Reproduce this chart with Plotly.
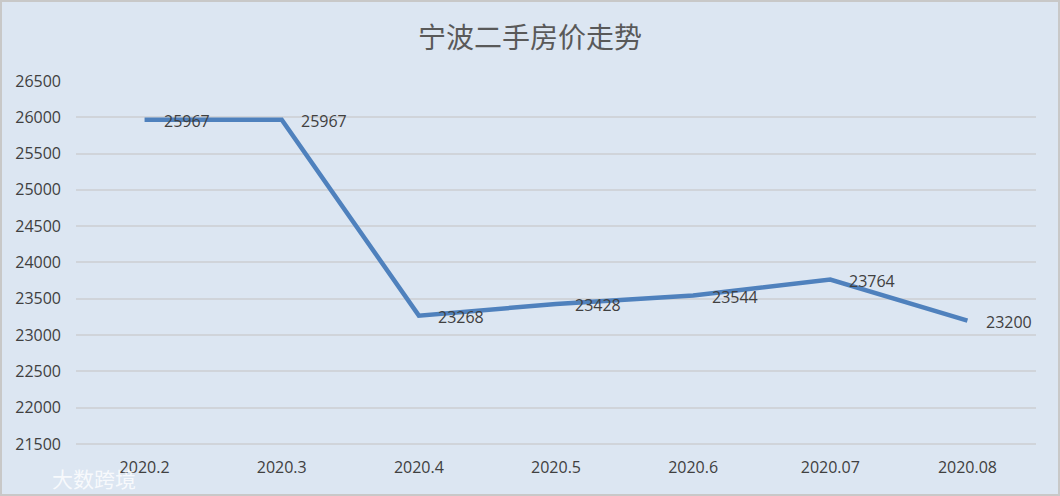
import plotly.graph_objects as go

months = ["2020.2", "2020.3", "2020.4", "2020.5", "2020.6", "2020.07", "2020.08"]
prices = [25967, 25967, 23268, 23428, 23544, 23764, 23200]
title = "宁波二手房价走势"
watermark = "大数跨境"

W, H = 1060, 496
L, R, T, B = 76, 24, 81, 50
pw, ph = W - L - R, H - T - B

bg = "#dce6f2"
font_fam = "Open Sans, Noto Sans, sans-serif"

fig = go.Figure()
fig.add_trace(go.Scatter(
    x=months, y=prices, mode="lines",
    line=dict(color="#4f81bd", width=4.5),
    hoverinfo="skip", showlegend=False,
))

# category axes index annotations by serial number
annotations = [
    dict(x=i, y=v, text=str(v), xref="x", yref="y", showarrow=False,
         xanchor="left", yanchor="middle", xshift=17, yshift=-1,
         font=dict(family=font_fam, size=16, color="#404040"))
    for i, v in enumerate(prices)
]
annotations.append(dict(text=watermark, xref="paper", yref="paper",
                        x=(50 - L) / pw, y=-(478 - (T + ph)) / ph, xanchor="left", yanchor="middle",
                        showarrow=False,
                        font=dict(family="Noto Sans CJK SC", size=21, color="rgba(255,255,255,0.8)")))

fig.update_layout(
    width=W, height=H,
    margin=dict(l=L, r=R, t=T, b=B),
    paper_bgcolor=bg, plot_bgcolor=bg,
    title=dict(text=title, x=0.5, xanchor="center", y=1 - 38 / H, yanchor="middle",
               font=dict(family="Noto Sans CJK SC", size=28, color="#595959")),
    xaxis=dict(type="category", range=[-0.5, len(months) - 0.5],
               showgrid=False, showline=False, zeroline=False, ticks="",
               tickfont=dict(family=font_fam, size=16, color="#404040"),
               ticklabelstandoff=10, fixedrange=True),
    yaxis=dict(range=[21472, 26500], dtick=500, tick0=21500, tickformat="d",
               showgrid=True, gridcolor="#d0d4da", gridwidth=2,
               zeroline=False, showline=False, ticks="",
               tickfont=dict(family=font_fam, size=16, color="#404040"),
               ticklabelstandoff=14, fixedrange=True),
    shapes=[dict(type="rect", xref="paper", yref="paper",
                 x0=-(L - 1) / pw, x1=(W - L - 1) / pw,
                 y0=-(B - 1) / ph, y1=(H - B - 1) / ph,
                 line=dict(color="#c8c8c8", width=2), fillcolor="rgba(0,0,0,0)", layer="above")],
    annotations=annotations,
)

fig.write_html("out.html", config=dict(displayModeBar=False),
               post_script="document.body.style.margin='0';document.body.style.overflow='hidden';")
